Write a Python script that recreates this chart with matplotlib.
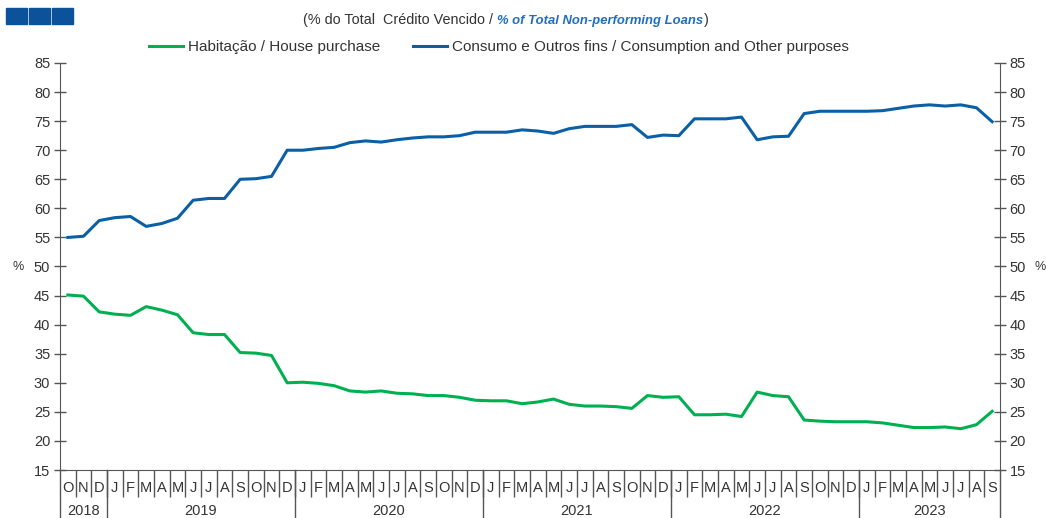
import numpy as np
import matplotlib
matplotlib.use("Agg")
import matplotlib.pyplot as plt
from matplotlib.patches import Rectangle
from matplotlib.transforms import blended_transform_factory

plt.rcParams['font.family'] = ['Liberation Sans', 'DejaVu Sans']
narrow = ['Liberation Sans Narrow', 'Liberation Sans', 'DejaVu Sans']

# months from Oct 2018 to Sep 2023
months = ['O', 'N', 'D'] + ['J', 'F', 'M', 'A', 'M', 'J', 'J', 'A', 'S', 'O', 'N', 'D'] * 4 \
    + ['J', 'F', 'M', 'A', 'M', 'J', 'J', 'A', 'S']
years = ['2018', '2019', '2020', '2021', '2022', '2023']
months_per_year = [3, 12, 12, 12, 12, 9]

housing = [45.1, 44.9, 42.2, 41.8, 41.6, 43.1, 42.5, 41.7, 38.6, 38.3, 38.3, 35.2,
           35.1, 34.7, 30.0, 30.1, 29.9, 29.5, 28.6, 28.4, 28.6, 28.2, 28.1, 27.8,
           27.8, 27.5, 27.0, 26.9, 26.9, 26.4, 26.7, 27.2, 26.3, 26.0, 26.0, 25.9,
           25.6, 27.8, 27.5, 27.6, 24.5, 24.5, 24.6, 24.2, 28.4, 27.8, 27.6, 23.6,
           23.4, 23.3, 23.3, 23.3, 23.1, 22.7, 22.3, 22.3, 22.4, 22.1, 22.8, 25.1]
consumer = [55.0, 55.2, 57.9, 58.4, 58.6, 56.9, 57.4, 58.3, 61.4, 61.7, 61.7, 65.0,
            65.1, 65.5, 70.0, 70.0, 70.3, 70.5, 71.3, 71.6, 71.4, 71.8, 72.1, 72.3,
            72.3, 72.5, 73.1, 73.1, 73.1, 73.5, 73.3, 72.9, 73.7, 74.1, 74.1, 74.1,
            74.4, 72.2, 72.6, 72.5, 75.4, 75.4, 75.4, 75.7, 71.8, 72.3, 72.4, 76.3,
            76.7, 76.7, 76.7, 76.7, 76.8, 77.2, 77.6, 77.8, 77.6, 77.8, 77.3, 74.9]

green = '#00B050'
blue = '#0B5FA5'
grey = '#555555'
txt = '#333333'

W, H = 1046, 518
fig = plt.figure(figsize=(W / 100, H / 100), dpi=100)
ax = fig.add_axes([60 / W, 48 / H, 940 / W, 407 / H])

x = np.arange(len(months))
ax.plot(x, housing, color=green, lw=2.2, label='Habitação / House purchase')
ax.plot(x, consumer, color=blue, lw=2.2, label='Consumo e Outros fins / Consumption and Other purposes')

ax.set_xlim(-0.5, len(months) - 0.5)
ax.set_ylim(15, 85)
ax.set_yticks(np.arange(15, 90, 5))
ax.tick_params(axis='y', direction='inout', length=8, width=1, color=grey,
               left=True, right=True, labelleft=True, labelright=True,
               labelsize=10.5, labelcolor=txt, pad=3)

ax.set_xticks(x)
ax.set_xticklabels(months)
ax.set_xticks(np.arange(0.5, len(months) - 1, 1), minor=True)
ax.tick_params(axis='x', which='major', length=0, labelsize=10.5, labelcolor=txt, pad=8)
ax.tick_params(axis='x', which='minor', direction='out', length=19.5, width=1, color=grey)

for s in ['left', 'right', 'bottom']:
    ax.spines[s].set_color(grey)
ax.spines['top'].set_visible(False)

# year separators and labels below the month row
trans = blended_transform_factory(ax.transData, ax.transAxes)
bounds = np.concatenate([[0], np.cumsum(months_per_year)]) - 0.5
for b in bounds:
    ax.plot([b, b], [0, -0.12], transform=trans, color=grey, lw=1, clip_on=False)
for yr, a, b in zip(years, bounds[:-1], bounds[1:]):
    ax.text((a + b) / 2, -0.1, yr, transform=trans, ha='center', va='center',
            fontsize=10.5, color=txt)

fig.text(18 / W, 1 - 267 / H, '%', ha='center', va='center', fontsize=9, color=txt)
fig.text(1040 / W, 1 - 267 / H, '%', ha='center', va='center', fontsize=9, color=txt)

fig.legend(loc='center', bbox_to_anchor=(499 / W, 1 - 47 / H), ncol=2, frameon=False,
           prop={'family': narrow, 'size': 11}, handlelength=2.2, handletextpad=0.3,
           columnspacing=2.2, labelcolor=txt)

# subtitle in two styles
t1 = fig.text(303 / W, 1 - 20 / H, '(% do Total  Crédito Vencido / ', ha='left', va='center',
              fontsize=10.4, family=narrow, color=txt)
t2 = fig.text(0, 0, '% of Total Non-performing Loans', fontsize=9.4, family=narrow,
              color='#1F6FBF', weight='bold', style='italic', ha='left', va='baseline')
t3 = fig.text(0, 0, ')', fontsize=10.4, family=narrow, color=txt, ha='left', va='baseline')
fig.canvas.draw()
r = fig.canvas.get_renderer()
bb = t1.get_window_extent(r)
base = fig.transFigure.transform((0, 1 - 20 / H))[1] - 4
t2.set_position(((bb.x1) / W, base / H))
bb2 = t2.get_window_extent(r)
t3.set_position(((bb2.x1 + 1) / W, base / H))

for x0 in [6, 29, 52]:
    fig.patches.append(Rectangle((x0 / W, 1 - 24 / H), 21 / W, 16 / H,
                                 transform=fig.transFigure, color='#0B529A'))

fig.savefig('out.png', dpi=100)
